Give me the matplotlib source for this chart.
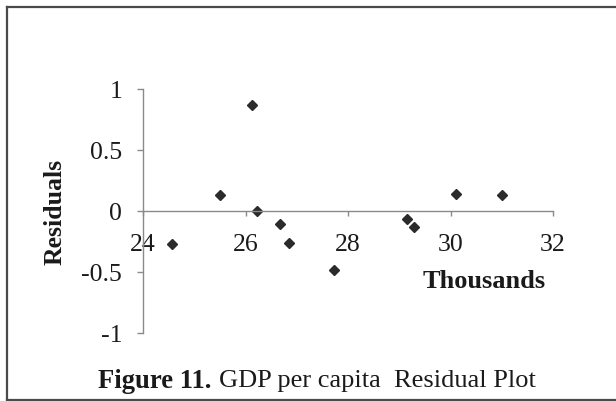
import matplotlib.pyplot as plt
from matplotlib.lines import Line2D

# GDP per capita (thousands) and residuals
gdp = [24.57, 25.5, 26.12, 26.22, 26.67, 26.85, 27.72, 29.15, 29.28, 30.1, 31.0]
residuals = [-0.27, 0.13, 0.87, 0.0, -0.10, -0.26, -0.48, -0.06, -0.13, 0.14, 0.13]

x_ticks = [24, 26, 28, 30, 32]
y_ticks = [-1, -0.5, 0, 0.5, 1]
y_tick_labels = ['-1', '-0.5', '0', '0.5', '1']

plt.rcParams['font.family'] = ['Liberation Serif', 'DejaVu Serif']

W, H = 616, 401
fig = plt.figure(figsize=(W / 100, H / 100), dpi=100)
ax = fig.add_axes([143 / W, 1 - 333.3 / H, (553 - 143) / W, (333.3 - 89.3) / H])

ax.plot(gdp, residuals, linestyle='none', marker='D', ms=5.5, color='#2b2b2b')

ax.set_xlim(24, 32)
ax.set_ylim(-1, 1)
ax.set_xticks(x_ticks)
ax.set_yticks(y_ticks)
ax.set_yticklabels(y_tick_labels)

grey = '#8a8a8a'
for side in ['top', 'right']:
    ax.spines[side].set_visible(False)
ax.spines['bottom'].set_position(('data', 0))
for side in ['left', 'bottom']:
    ax.spines[side].set_color(grey)
    ax.spines[side].set_linewidth(1.0)

ax.tick_params(axis='both', colors=grey, labelcolor='#1a1a1a', labelsize=18.5,
               direction='out', width=1.0)
ax.tick_params(axis='y', length=4.5, pad=10.5)
ax.tick_params(axis='x', length=3.5, pad=13)

ax.text(-0.215, 0.497, 'Residuals', transform=ax.transAxes, rotation=90,
        ha='center', va='center', fontsize=18.5, fontweight='bold', color='#1a1a1a')
ax.text(0.832, 0.214, 'Thousands', transform=ax.transAxes,
        ha='center', va='center', fontsize=19, fontweight='bold', color='#1a1a1a')

# caption
fig.text(98 / W, 1 - 381 / H, 'Figure 11.', ha='left', va='center',
         fontsize=19.2, fontweight='bold', color='#1a1a1a')
fig.text(219 / W, 1 - 381 / H, 'GDP per capita  Residual Plot', ha='left', va='center',
         fontsize=19, color='#1a1a1a')

# outer frame (left, top, bottom; open on the right)
frame = '#4a4a4a'
fig.add_artist(Line2D([7 / W, 7 / W], [1 - 7 / H, 1 - 400 / H], transform=fig.transFigure,
                      color=frame, lw=1.6))
fig.add_artist(Line2D([7 / W, 1], [1 - 7 / H, 1 - 7 / H], transform=fig.transFigure,
                      color=frame, lw=1.6))
fig.add_artist(Line2D([7 / W, 1], [1 - 400 / H, 1 - 400 / H], transform=fig.transFigure,
                      color=frame, lw=1.6))

fig.savefig('out.png', dpi=100)
